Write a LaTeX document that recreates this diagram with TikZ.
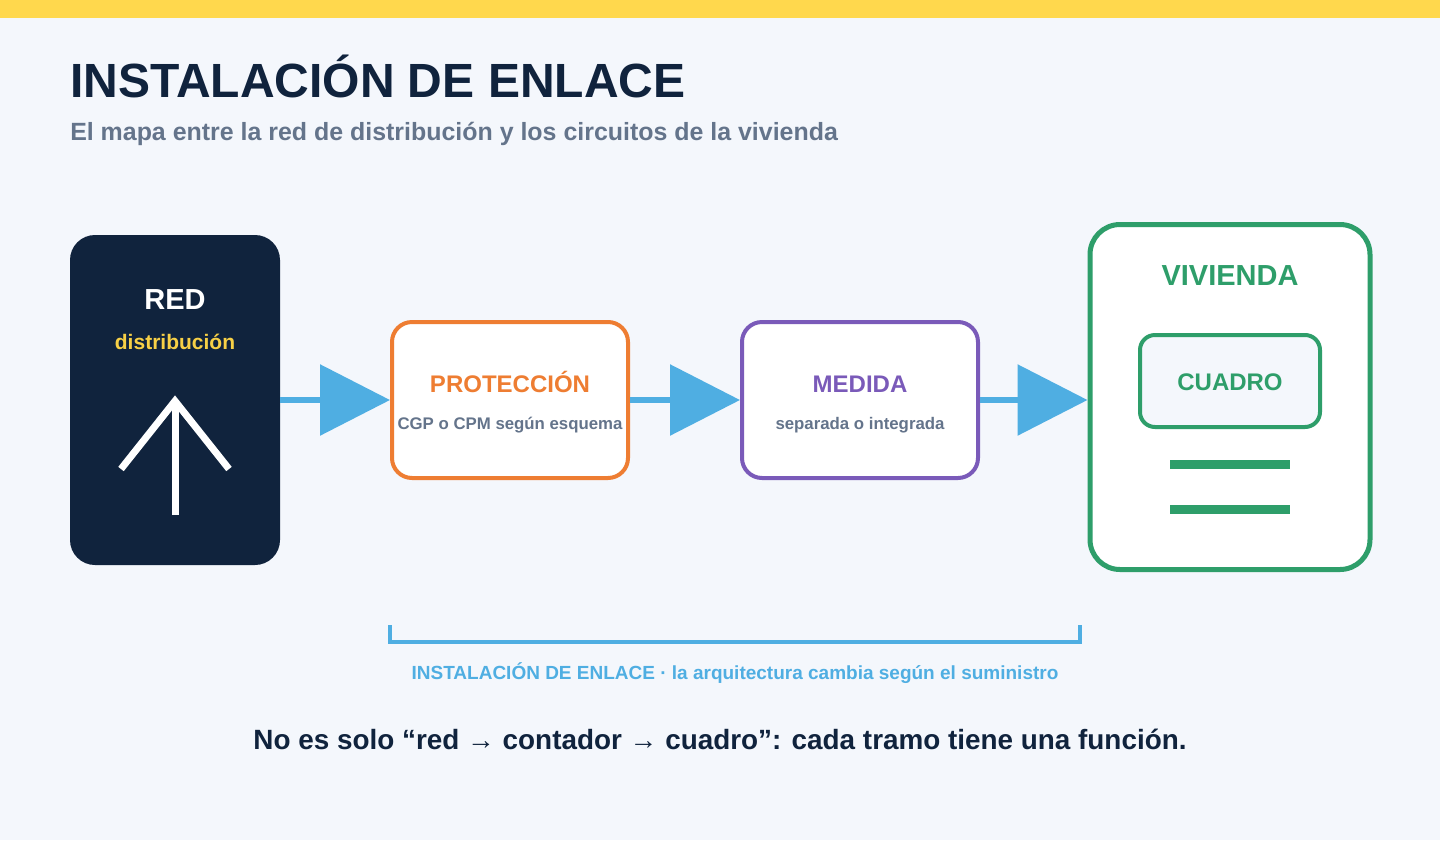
\documentclass[tikz,border=0pt]{standalone}
\usepackage{fontspec}
\setmainfont{Liberation Sans}
\usepackage{tikz}
\usepackage{xcolor}
\usetikzlibrary{arrows.meta, positioning, calc}
\definecolor{ENL_Bg}{HTML}{F4F7FC}
\definecolor{ENL_Gold}{HTML}{FFD84D}
\definecolor{ENL_Sun}{HTML}{F7D046}
\definecolor{ENL_Navy}{HTML}{10233D}
\definecolor{ENL_Slate}{HTML}{64748B}
\definecolor{ENL_Sky}{HTML}{4FAEE2}
\definecolor{ENL_Orange}{HTML}{EE7D32}
\definecolor{ENL_Violet}{HTML}{7A5AB9}
\definecolor{ENL_Green}{HTML}{2E9E6A}
\newcommand{\fsz}[1]{\bfseries\fontsize{#1}{#1}\selectfont}
\tikzset{
    txt/.style={inner sep=0pt, anchor=base},
    block/.style={rounded corners=15pt, minimum width=177pt, minimum height=117pt, fill=white, line width=3pt},
    link/.style={ENL_Sky, line width=4.5pt, -{Triangle[length=52.5pt, width=52.5pt]}},
}

\begin{document}
\begin{tikzpicture}[x=0.75pt, y=-0.75pt]
    \fill[ENL_Bg] (0,0) rectangle (1440,840);
    \fill[ENL_Gold] (0,0) rectangle (1440,18);
    \node[txt, anchor=base west, ENL_Navy, font=\fsz{36pt}] (title) at (70,97) {INSTALACIÓN DE ENLACE};
    \node[txt, anchor=base west, ENL_Slate, font=\fsz{18.7pt}] (subtitle) at (70,140) {El mapa entre la red de distribución y los circuitos de la vivienda};

    \node[fill=ENL_Navy, rounded corners=18.75pt, minimum width=157.5pt, minimum height=247.5pt] (red) at (175,400) {};
    \node[txt, white, font=\fsz{21.75pt}] (redlbl) at (175,309) {RED};
    \node[txt, ENL_Sun, font=\fsz{15.75pt}] (redsub) at (175,349) {distribución};
    \draw[white, line width=5.25pt] (175,515) -- (175,403);
    \draw[white, line width=5.25pt] (121,469) -- (175,401) -- (229,469);

    \node[block, draw=ENL_Orange] (prot) at (510,400) {};
    \node[txt, ENL_Orange, font=\fsz{18pt}] (protlbl) at (510,392) {PROTECCIÓN};
    \node[txt, ENL_Slate, font=\fsz{12.6pt}] (protsub) at (510,429) {CGP o CPM según esquema};

    \node[block, draw=ENL_Violet] (med) at (860,400) {};
    \node[txt, ENL_Violet, font=\fsz{18pt}] (medlbl) at (860,392) {MEDIDA};
    \node[txt, ENL_Slate, font=\fsz{12.6pt}] (medsub) at (860,429) {separada o integrada};

    \node[fill=white, draw=ENL_Green, line width=3.75pt, rounded corners=22.5pt, minimum width=210pt, minimum height=258.75pt] (viv) at (1230,397) {};
    \node[txt, ENL_Green, font=\fsz{21.75pt}] (vivlbl) at (1230,285) {VIVIENDA};
    \node[fill=ENL_Bg, draw=ENL_Green, line width=3pt, rounded corners=11.25pt, minimum width=135pt, minimum height=69pt] (cuadro) at (1230,381) {};
    \node[txt, ENL_Green, font=\fsz{18pt}] (cuadrolbl) at (1230,390) {CUADRO};
    \draw[ENL_Green, line width=6.5pt] (1170,464.5) -- (1290,464.5);
    \draw[ENL_Green, line width=6.5pt] (1170,509.5) -- (1290,509.5);

    \draw[link] (red.east) -- (prot.west);
    \draw[link] (prot.east) -- (med.west);
    \draw[link] (med.east) -- (viv.west |- med.east);

    \coordinate (brA) at (390,625);
    \coordinate (brB) at (1080,625);
    \draw[ENL_Sky, line width=3pt] (brA) -- ++(0,17) -| (brB);
    \node[txt, ENL_Sky, font=\fsz{14.25pt}] (enlace) at (735,679) {INSTALACIÓN DE ENLACE · la arquitectura cambia según el suministro};

    \node[txt, ENL_Navy, font=\fsz{20.9pt}] (moral) at (720,749) {No es solo “red → contador → cuadro”: cada tramo tiene una función.};
\end{tikzpicture}
\end{document}
